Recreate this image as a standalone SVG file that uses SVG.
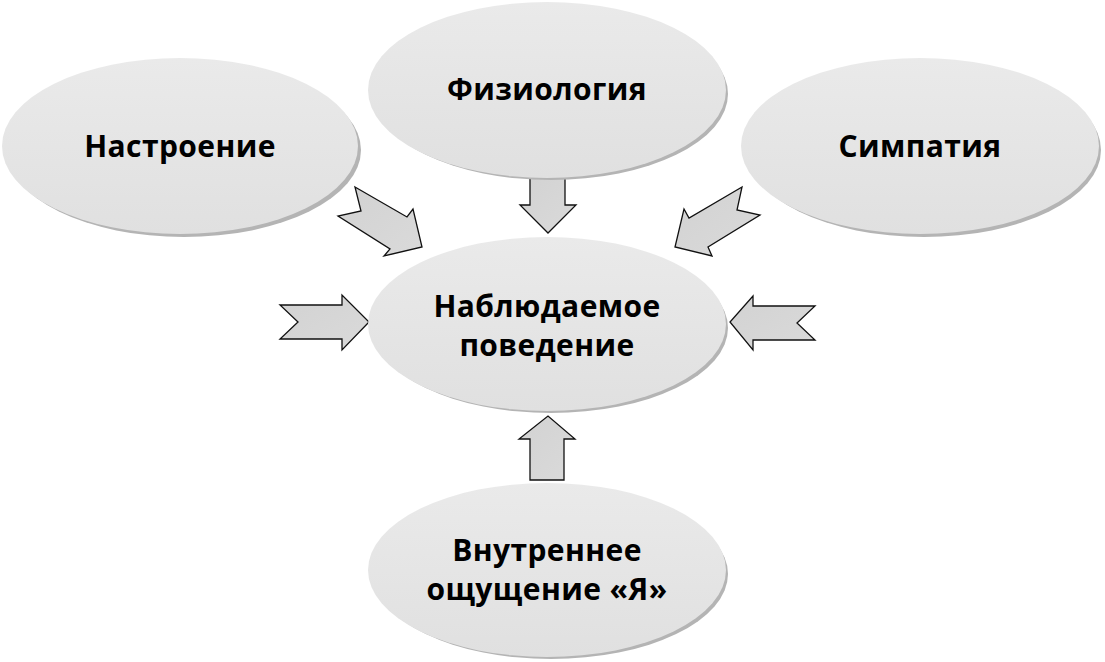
<svg xmlns="http://www.w3.org/2000/svg" width="1105" height="662" viewBox="0 0 1105 662">
<defs>
<linearGradient id="eg" x1="0" y1="0" x2="0" y2="1">
<stop offset="0" stop-color="#eaeaea"/>
<stop offset="1" stop-color="#e0e0e0"/>
</linearGradient>
<linearGradient id="ag" x1="0" y1="0" x2="1" y2="1">
<stop offset="0" stop-color="#d2d2d2"/>
<stop offset="1" stop-color="#dadada"/>
</linearGradient>
</defs>
<style>
.sh{fill:#b4b4b4}
.el{fill:url(#eg)}
.lb{font-family:"Open Sans","DejaVu Sans",sans-serif;font-weight:700;font-size:30px;fill:#000;text-anchor:middle;letter-spacing:0.4px}
.ar{fill:url(#ag);stroke:#111;stroke-width:1.3;stroke-linejoin:miter}
</style>
<rect width="1105" height="662" fill="#fff"/>
<g id="connectors">
<polygon class="ar" points="530,178 565,178 565,205 576,205 548,233 520,205 530,205"/>
<polygon class="ar" points="530,480 564,480 564,439 575,439 548,416 519,439 530,439"/>
<polygon class="ar" points="280,305 342,305 342,295 369,322 342,350 342,339 280,339 298,322"/>
<polygon class="ar" points="815,306 753,306 753,296 730,322 753,350 753,340 815,340 797,323"/>
<polygon class="ar" points="355,187 407,217 413,209 422,247 384,256 390,249 338,216 361,211"/>
<polygon class="ar" points="742,187 689,218 684,209 675,247 712,256 708,247 760,215 737,210"/>
</g>
<g id="node-nastroenie">
<ellipse class="sh" cx="184" cy="150" rx="177" ry="87"/>
<ellipse class="el" cx="180" cy="146" rx="178" ry="88"/>
<text class="lb" x="180" y="157">Настроение</text>
</g>
<g id="node-fiziologiya">
<ellipse class="sh" cx="551" cy="94" rx="177" ry="86"/>
<ellipse class="el" cx="547" cy="90" rx="179" ry="88"/>
<text class="lb" x="547" y="100">Физиология</text>
</g>
<g id="node-simpatiya">
<ellipse class="sh" cx="924" cy="150" rx="177" ry="87"/>
<ellipse class="el" cx="920" cy="146" rx="179" ry="88"/>
<text class="lb" x="920" y="157">Симпатия</text>
</g>
<g id="node-povedenie">
<ellipse class="sh" cx="551" cy="328" rx="177" ry="85"/>
<ellipse class="el" cx="547" cy="324" rx="179" ry="87"/>
<text class="lb" x="547" y="317">Наблюдаемое</text>
<text class="lb" x="547" y="356">поведение</text>
</g>
<g id="node-oshchushchenie">
<ellipse class="sh" cx="551" cy="574" rx="177" ry="85"/>
<ellipse class="el" cx="547" cy="570" rx="179" ry="87"/>
<text class="lb" x="547" y="561">Внутреннее</text>
<text class="lb" x="547" y="600">ощущение «Я»</text>
</g>
</svg>
